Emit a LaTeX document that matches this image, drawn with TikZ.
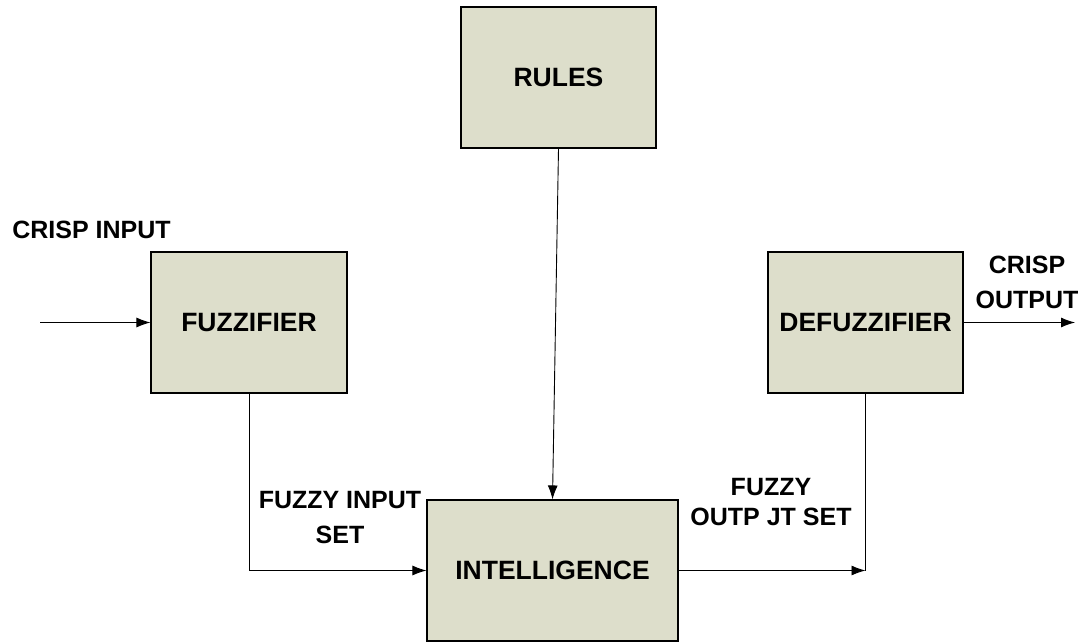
\documentclass[tikz,border=0pt]{standalone}
\usepackage{fontspec}
\setmainfont{Liberation Sans}
\usetikzlibrary{arrows.meta}
\definecolor{boxfill}{RGB}{221,222,203}

\begin{document}
\begin{tikzpicture}[x=1pt,y=-1pt,
  block/.style={draw,line width=1.1pt,fill=boxfill,minimum height=141pt,inner sep=0pt,
    font=\fontsize{26.5}{35}\selectfont\bfseries},
  lbl/.style={align=center,inner sep=0pt,anchor=base},
  font=\fontsize{25}{35}\selectfont\bfseries]
\useasboundingbox (0,0) rectangle (1081,642);
\node[block,minimum width=195pt] (R) at (558.5,77.5) {RULES};
\node[block,minimum width=196pt] (F) at (249,322.5) {FUZZIFIER};
\node[block,minimum width=195pt] (D) at (865.5,322.5) {DEFUZZIFIER};
\node[block,minimum width=251pt] (I) at (552.5,570.5) {INTELLIGENCE};
\coordinate (in) at (40,322.5);
\coordinate (out) at (1075,322.5);
\coordinate (c) at (D.south |- I.east);
\node[lbl] (ci) at (91.5,238) {CRISP INPUT};
\node[lbl] (co) at (1027,308) {CRISP\\OUTPUT};
\node[lbl] (fi) at (340,543) {FUZZY INPUT\\SET};
\node[lbl,font=\fontsize{25}{30}\selectfont\bfseries] (fo) at (771,525) {FUZZY\\OUTP JT SET};
\path[-{Latex[length=14pt,width=10pt]},line width=0.9pt]
(in) edge (F.west)
(D.east) edge (out)
(R.south) edge (I.north)
(I.east) edge (c);
\draw[line width=0.9pt] (D.south) -- (c);
\draw[-{Latex[length=14pt,width=10pt]},line width=0.9pt] (F.south) |- (I.west);
\end{tikzpicture}
\end{document}
